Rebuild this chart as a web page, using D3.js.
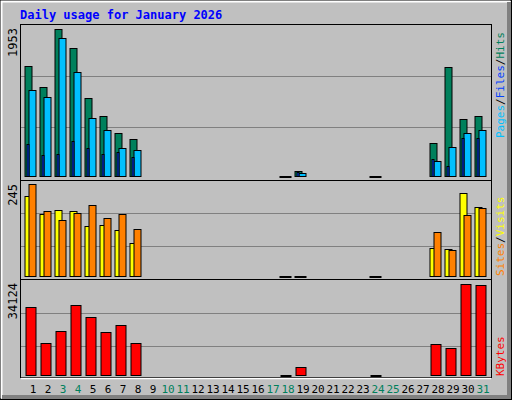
<!DOCTYPE html>
<html><head><meta charset="utf-8">
<script src="https://cdn.jsdelivr.net/npm/d3@7"></script>
<style>body{margin:0;background:#fff}</style>
</head><body>
<div id="chart"></div>
<script>
const days = d3.range(1, 32);
const weekend = [3, 4, 10, 11, 17, 18, 24, 25, 31];
// null = no data for that day
const hits  = [1423,1151,1901,1655,1009,776,556,478,null,null,null,null,null,null,null,null,null,1,65,null,null,null,null,1,null,null,null,427,1410,737,776];
const pages = [1112,1022,1785,1345,750,595,362,336,null,null,null,null,null,null,null,null,null,1,40,null,null,null,null,1,null,null,null,194,375,556,595];
const files = [414,272,285,453,362,285,310,246,null,null,null,null,null,null,null,null,null,1,50,null,null,null,null,1,null,null,null,220,129,491,491];
const visits = [213,165,176,173,133,136,122,88,null,null,null,null,null,null,null,null,null,1,1,null,null,null,null,1,null,null,null,75,72,221,184];
const sites  = [245,173,149,168,189,154,165,125,null,null,null,null,null,null,null,null,null,1,1,null,null,null,null,1,null,null,null,117,69,162,181];
const kbytes = [25500,12000,16500,26250,21750,16100,18750,12000,null,null,null,null,null,null,null,null,null,1,3000,null,null,null,null,1,null,null,null,11600,10100,34124,33750];
const maxLabels = ["1953", "245", "34124"];

const W = 512, H = 400;
const svg = d3.select('#chart').append('svg').attr('width', W).attr('height', H)
    .style('font-family', 'DejaVu Sans Mono, monospace');

// frame
svg.append('rect').attr('x', 0.5).attr('y', 0.5).attr('width', W - 1).attr('height', H - 1).attr('fill', '#c0c0c0').attr('stroke', '#000');
svg.append('path').attr('d', `M1.5,${H-1.5}V1.5H${W-1.5}`).attr('fill', 'none').attr('stroke', '#fff').attr('stroke-width', 2);
svg.append('path').attr('d', `M${W-3},2V${H-3}H2`).attr('fill', 'none').attr('stroke', '#808080').attr('stroke-width', 4);

svg.append('text').attr('x', 20).attr('y', 19).attr('fill', '#0000ff').attr('font-weight', 'bold')
    .attr('font-size', 12).text('Daily usage for January 2026');

const x = d3.scaleBand().domain(days).range([25.5, 490.5]);

const panels = [
    {top: 25, bottom: 176, max: 1953, grid: [76, 127]},
    {top: 184, bottom: 276, max: 245, grid: [213, 246]},
    {top: 284, bottom: 375, max: 34124, grid: [313, 346]}
];
const frames = [[20, 24, 180], [20, 180, 279], [20, 279, 377]];
frames.forEach(([l, t, b], i) => {
    svg.append('rect').attr('x', l + 0.5).attr('y', t + 0.5).attr('width', 471).attr('height', b - t)
        .attr('fill', '#c0c0c0').attr('stroke', '#000');
    svg.append('line').attr('x1', l + 1).attr('x2', 491).attr('y1', b + 1.5).attr('y2', b + 1.5).attr('stroke', '#fff').attr('stroke-width', 1.5);
    panels[i].grid.forEach(g => svg.append('line').attr('x1', l + 1).attr('x2', 491)
        .attr('y1', g + 0.5).attr('y2', g + 0.5).attr('stroke', '#808080'));
    svg.append('text').attr('transform', `translate(17,${t + 4}) rotate(-90)`).attr('text-anchor', 'end')
        .attr('font-size', 12).attr('fill', '#000').text(maxLabels[i]);
});

function bars(values, p, dx, w, color) {
    const y = d3.scaleLinear().domain([0, p.max]).range([p.bottom, p.top]);
    svg.append('g').selectAll('rect').data(days.filter((d, i) => values[i] != null)).join('rect')
        .attr('x', d => x(d) + dx - 0.5)
        .attr('y', d => Math.round(y(values[d - 1])) + 0.5)
        .attr('width', w)
        .attr('height', d => Math.max(1, p.bottom - Math.round(y(values[d - 1]))))
        .attr('fill', color).attr('stroke', '#000');
}
bars(hits, panels[0], 0, 7, '#00805c');
bars(pages, panels[0], 4, 7, '#00c0ff');
bars(files, panels[0], 2, 2, '#0040ff');
bars(visits, panels[1], 0, 7, '#ffff00');
bars(sites, panels[1], 4, 7, '#ff8000');
bars(kbytes, panels[2], 1, 10, '#ff0000');

svg.append('g').selectAll('text').data(days).join('text')
    .attr('x', d => x(d) + x.bandwidth() / 2).attr('y', 393).attr('text-anchor', 'middle')
    .attr('font-size', 11).attr('fill', d => weekend.includes(d) ? '#00805c' : '#000').text(d => d);

// right legends
function legend(parts, yEnd) {
    const t = svg.append('text').attr('transform', `translate(504,${yEnd}) rotate(-90)`).attr('font-size', 11);
    parts.forEach(([s, c]) => t.append('tspan').attr('fill', c).text(s));
}
legend([['Pages', '#00c0ff'], ['/', '#000'], ['Files', '#0040ff'], ['/', '#000'], ['Hits', '#00805c']], 138);
legend([['Sites', '#ff8000'], ['/', '#000'], ['Visits', '#ffff00']], 276);
legend([['KBytes', '#ff0000']], 376);
</script>
</body></html>
